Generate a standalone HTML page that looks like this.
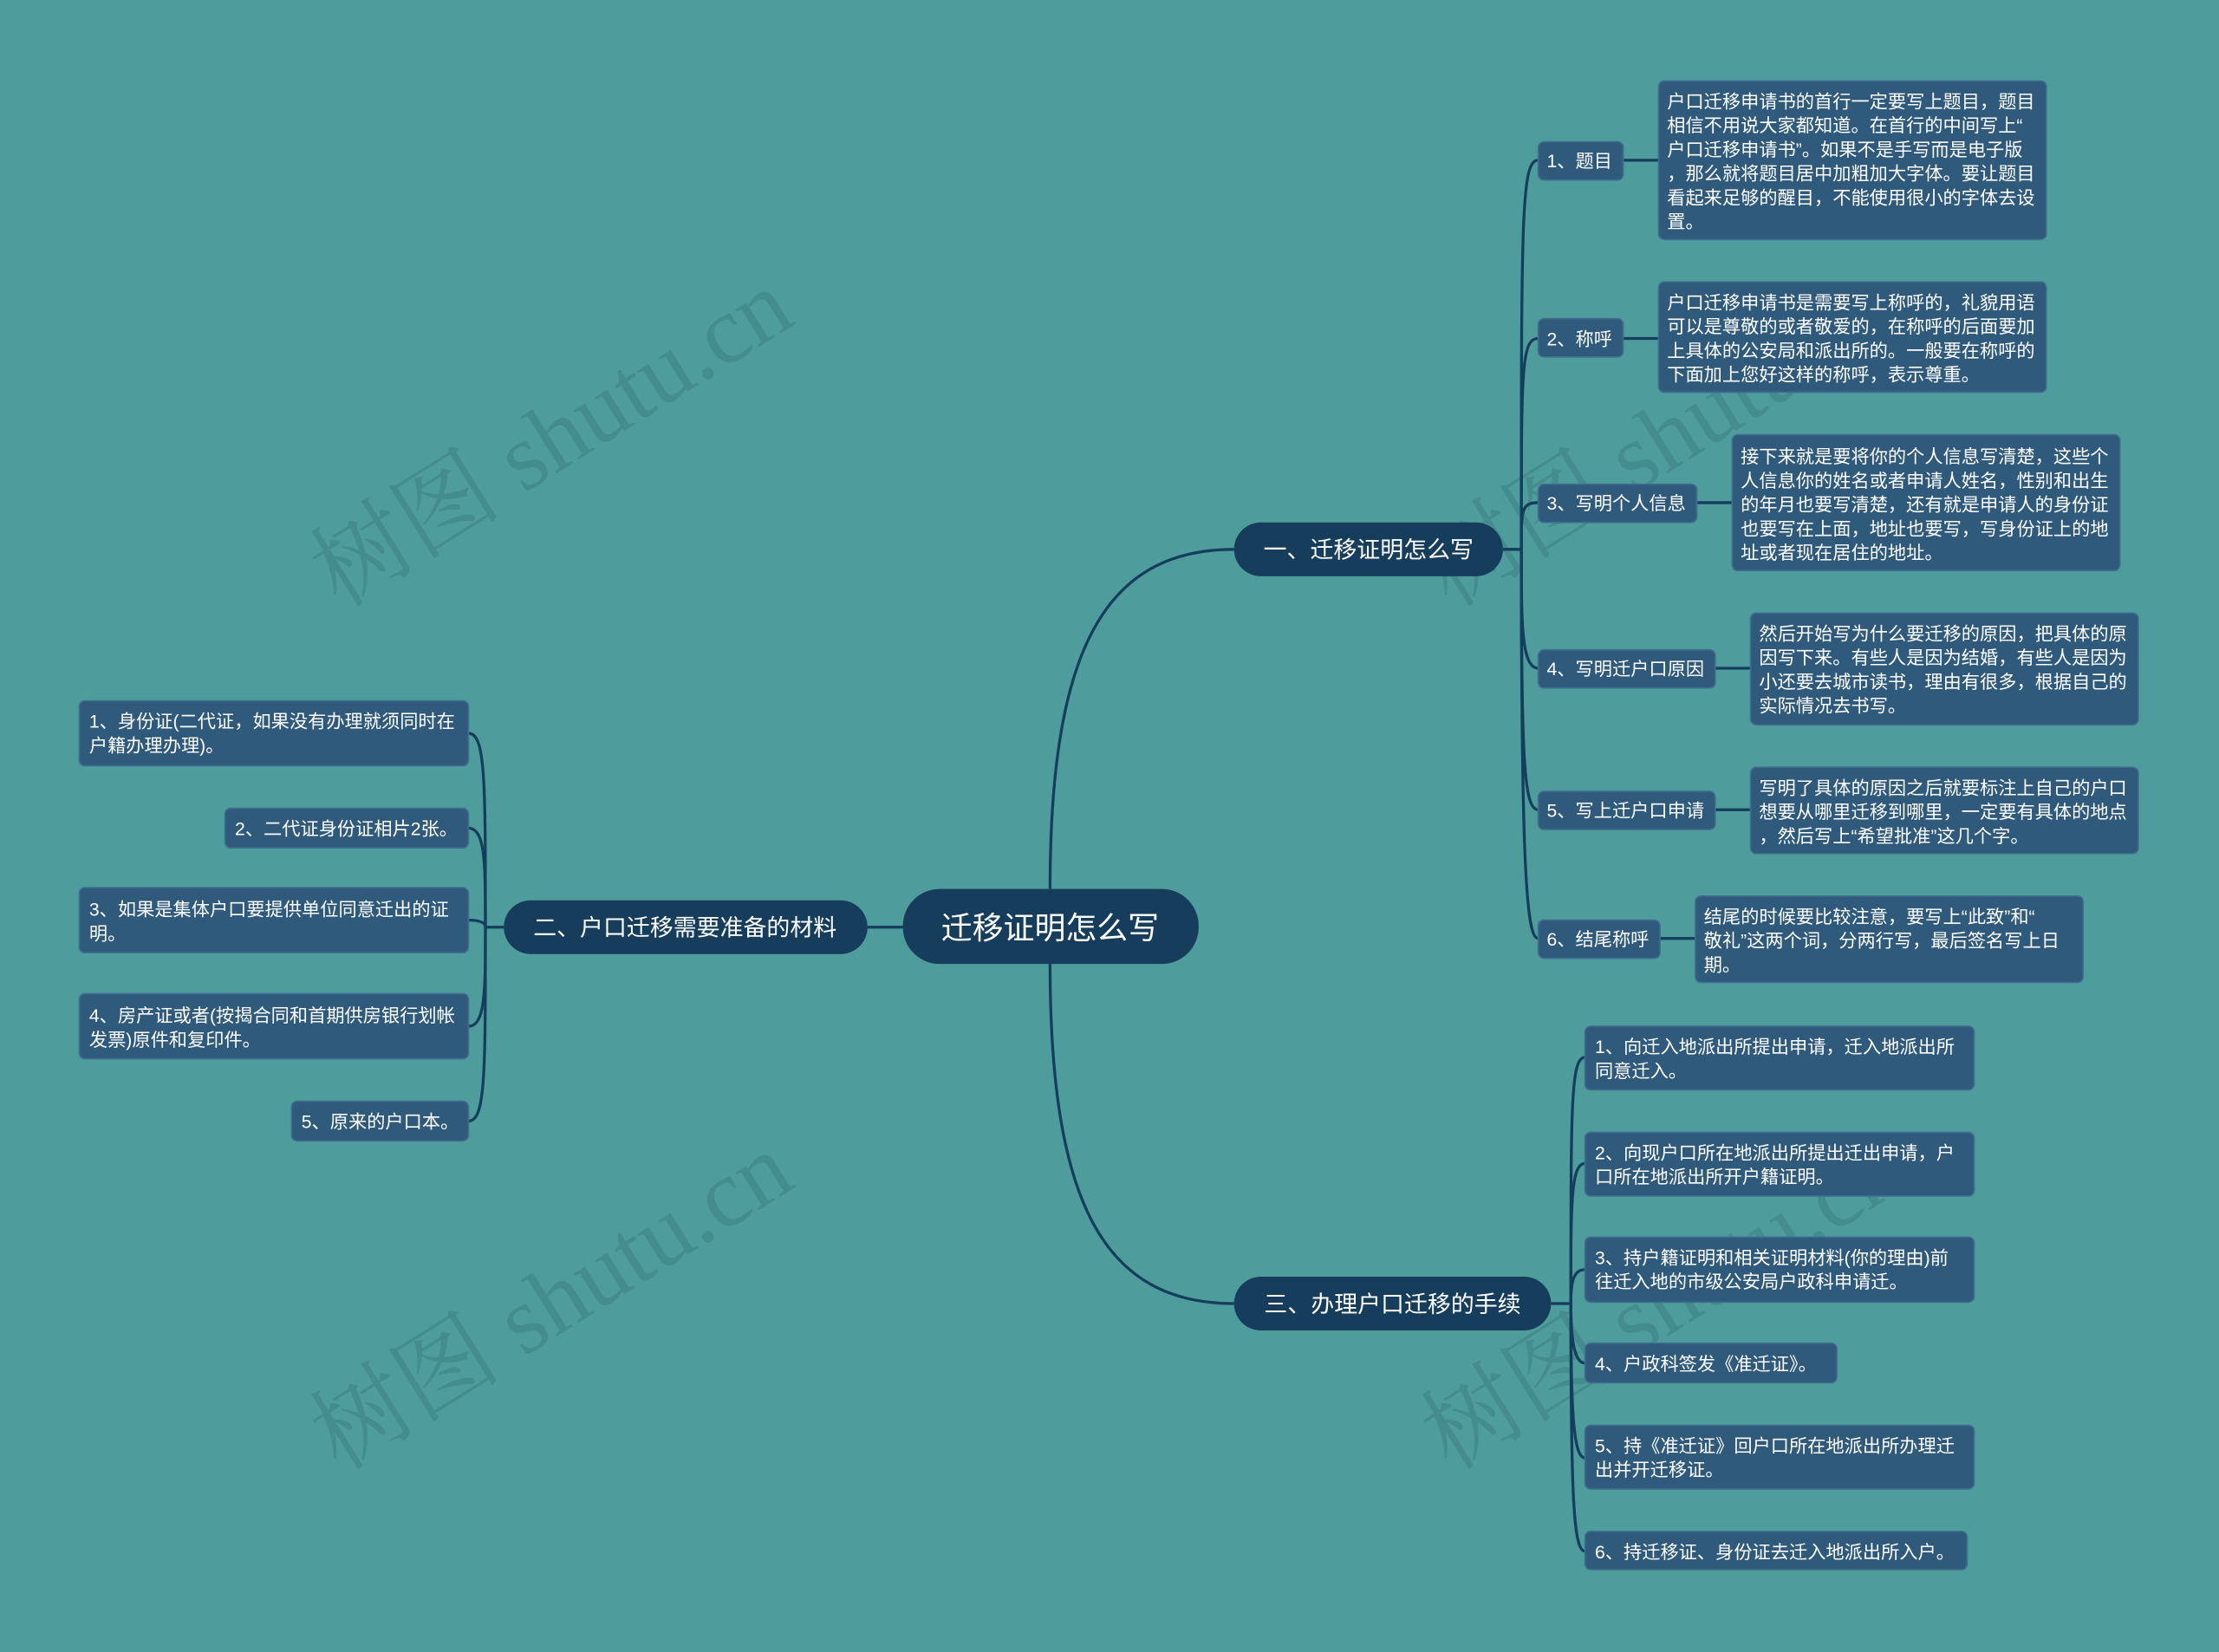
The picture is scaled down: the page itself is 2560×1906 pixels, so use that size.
<!DOCTYPE html>
<html><head><meta charset="utf-8"><style>
html,body{margin:0;padding:0;background:#4e9c9c;}
svg{display:block}
text{font-family:"Liberation Sans","Noto Sans CJK SC",sans-serif;fill:#fff;}
.l{font-size:13px}
.leaf{fill:#2f5a7b;stroke:#3f6e8e;stroke-width:1}
.ln{fill:none;stroke:#163d5c;stroke-width:2}
.wm{font-family:"Liberation Serif","Noto Serif CJK SC",serif;font-size:68px;fill:#3f7f85;opacity:0.55}
</style></head><body>
<svg width="2560" height="1906" viewBox="0 0 1568 1167" xmlns="http://www.w3.org/2000/svg">
<rect width="1568" height="1167" fill="#4e9c9c"/>
<g>
<text class="wm" transform="translate(240,430) rotate(-32)">树图 shutu.cn</text>
<text class="wm" transform="translate(240,1040) rotate(-32)">树图 shutu.cn</text>
<text class="wm" transform="translate(1025,430) rotate(-32)">树图 shutu.cn</text>
<text class="wm" transform="translate(1025,1040) rotate(-32)">树图 shutu.cn</text>
</g>
<!-- connectors -->
<path class="ln" d="M742,628 C742,460 780,388 872,388"/>
<path class="ln" d="M742,681 C742,850 780,921 872,921"/>
<path class="ln" d="M638,655 L613,655"/>
<path class="ln" d="M1062,388 L1075,388"/>
<path class="ln" d="M1075,388 C1075,150 1075,113 1087,113"/>
<path class="ln" d="M1075,388 C1075,260 1075,239 1087,239"/>
<path class="ln" d="M1075,388 C1075,360 1075,355 1087,355"/>
<path class="ln" d="M1075,388 C1075,440 1075,472 1087,472"/>
<path class="ln" d="M1075,388 C1075,540 1077,572 1087,572"/>
<path class="ln" d="M1075,388 C1075,620 1079,663 1087,663"/>
<path class="ln" d="M1147,113 L1172,113"/>
<path class="ln" d="M1147,239 L1172,239"/>
<path class="ln" d="M1199,355 L1224,355"/>
<path class="ln" d="M1212,472 L1237,472"/>
<path class="ln" d="M1212,572 L1237,572"/>
<path class="ln" d="M1173,663 L1198,663"/>
<path class="ln" d="M1096,921 L1110,921"/>
<path class="ln" d="M1110,921 C1110,780 1110,747 1120,747"/>
<path class="ln" d="M1110,921 C1110,850 1110,822 1120,822"/>
<path class="ln" d="M1110,921 C1110,905 1112,897 1120,897"/>
<path class="ln" d="M1110,921 C1110,945 1112,963 1120,963"/>
<path class="ln" d="M1110,921 C1110,1000 1112,1030 1120,1030"/>
<path class="ln" d="M1110,921 C1110,1060 1112,1096 1120,1096"/>
<path class="ln" d="M356,655 L343,655"/>
<path class="ln" d="M343,655 C343,550 343,518 331,518"/>
<path class="ln" d="M343,655 C343,610 343,585 331,585"/>
<path class="ln" d="M343,655 C343,652 340,650 331,650"/>
<path class="ln" d="M343,655 C343,700 343,725 331,725"/>
<path class="ln" d="M343,655 C343,760 343,792 331,792"/>
<!-- root & branches -->
<rect x="638" y="628" width="209" height="53" rx="26" fill="#163d5c"/>
<text x="742" y="663" text-anchor="middle" font-size="22">迁移证明怎么写</text>
<rect x="872" y="369" width="190" height="38" rx="19" fill="#163d5c"/>
<text x="967" y="394" text-anchor="middle" font-size="16.5">一、迁移证明怎么写</text>
<rect x="356" y="636" width="257" height="38" rx="19" fill="#163d5c"/>
<text x="484" y="661" text-anchor="middle" font-size="16.5">二、户口迁移需要准备的材料</text>
<rect x="872" y="902" width="224" height="38" rx="19" fill="#163d5c"/>
<text x="984" y="927" text-anchor="middle" font-size="16.5">三、办理户口迁移的手续</text>
<!-- branch 1 labels -->
<g class="l">
<rect class="leaf" x="1087" y="100" width="60" height="27" rx="4"/><text x="1093" y="118">1、题目</text>
<rect class="leaf" x="1087" y="225" width="60" height="27" rx="4"/><text x="1093" y="244">2、称呼</text>
<rect class="leaf" x="1087" y="342" width="112" height="27" rx="4"/><text x="1093" y="360">3、写明个人信息</text>
<rect class="leaf" x="1087" y="459" width="125" height="27" rx="4"/><text x="1093" y="477">4、写明迁户口原因</text>
<rect class="leaf" x="1087" y="559" width="125" height="27" rx="4"/><text x="1093" y="577">5、写上迁户口申请</text>
<rect class="leaf" x="1087" y="650" width="86" height="27" rx="4"/><text x="1093" y="668">6、结尾称呼</text>
<!-- descs -->
<rect class="leaf" x="1172" y="57" width="274" height="112" rx="4"/>
<text x="1178" y="76"><tspan x="1178">户口迁移申请书的首行一定要写上题目，题目</tspan><tspan x="1178" dy="17">相信不用说大家都知道。在首行的中间写上“</tspan><tspan x="1178" dy="17">户口迁移申请书”。如果不是手写而是电子版</tspan><tspan x="1178" dy="17">，那么就将题目居中加粗加大字体。要让题目</tspan><tspan x="1178" dy="17">看起来足够的醒目，不能使用很小的字体去设</tspan><tspan x="1178" dy="17">置。</tspan></text>
<rect class="leaf" x="1172" y="199" width="274" height="78" rx="4"/>
<text x="1178" y="218"><tspan x="1178">户口迁移申请书是需要写上称呼的，礼貌用语</tspan><tspan x="1178" dy="17">可以是尊敬的或者敬爱的，在称呼的后面要加</tspan><tspan x="1178" dy="17">上具体的公安局和派出所的。一般要在称呼的</tspan><tspan x="1178" dy="17">下面加上您好这样的称呼，表示尊重。</tspan></text>
<rect class="leaf" x="1224" y="307" width="274" height="96" rx="4"/>
<text x="1230" y="327"><tspan x="1230">接下来就是要将你的个人信息写清楚，这些个</tspan><tspan x="1230" dy="17">人信息你的姓名或者申请人姓名，性别和出生</tspan><tspan x="1230" dy="17">的年月也要写清楚，还有就是申请人的身份证</tspan><tspan x="1230" dy="17">也要写在上面，地址也要写，写身份证上的地</tspan><tspan x="1230" dy="17">址或者现在居住的地址。</tspan></text>
<rect class="leaf" x="1237" y="433" width="274" height="79" rx="4"/>
<text x="1243" y="452"><tspan x="1243">然后开始写为什么要迁移的原因，把具体的原</tspan><tspan x="1243" dy="17">因写下来。有些人是因为结婚，有些人是因为</tspan><tspan x="1243" dy="17">小还要去城市读书，理由有很多，根据自己的</tspan><tspan x="1243" dy="17">实际情况去书写。</tspan></text>
<rect class="leaf" x="1237" y="542" width="274" height="61" rx="4"/>
<text x="1243" y="561"><tspan x="1243">写明了具体的原因之后就要标注上自己的户口</tspan><tspan x="1243" dy="17">想要从哪里迁移到哪里，一定要有具体的地点</tspan><tspan x="1243" dy="17">，然后写上“希望批准”这几个字。</tspan></text>
<rect class="leaf" x="1198" y="633" width="274" height="61" rx="4"/>
<text x="1204" y="652"><tspan x="1204">结尾的时候要比较注意，要写上“此致”和“</tspan><tspan x="1204" dy="17">敬礼”这两个词，分两行写，最后签名写上日</tspan><tspan x="1204" dy="17">期。</tspan></text>
<!-- branch 3 -->
<rect class="leaf" x="1120" y="725" width="275" height="45" rx="4"/>
<text x="1127" y="744"><tspan x="1127">1、向迁入地派出所提出申请，迁入地派出所</tspan><tspan x="1127" dy="17">同意迁入。</tspan></text>
<rect class="leaf" x="1120" y="800" width="275" height="45" rx="4"/>
<text x="1127" y="819"><tspan x="1127">2、向现户口所在地派出所提出迁出申请，户</tspan><tspan x="1127" dy="17">口所在地派出所开户籍证明。</tspan></text>
<rect class="leaf" x="1120" y="874" width="275" height="46" rx="4"/>
<text x="1127" y="893"><tspan x="1127">3、持户籍证明和相关证明材料(你的理由)前</tspan><tspan x="1127" dy="17">往迁入地的市级公安局户政科申请迁。</tspan></text>
<rect class="leaf" x="1120" y="949" width="178" height="28" rx="4"/>
<text x="1127" y="968">4、户政科签发《准迁证》。</text>
<rect class="leaf" x="1120" y="1007" width="275" height="45" rx="4"/>
<text x="1127" y="1026"><tspan x="1127">5、持《准迁证》回户口所在地派出所办理迁</tspan><tspan x="1127" dy="17">出并开迁移证。</tspan></text>
<rect class="leaf" x="1120" y="1082" width="270" height="27" rx="4"/>
<text x="1127" y="1101">6、持迁移证、身份证去迁入地派出所入户。</text>
<!-- branch 2 -->
<rect class="leaf" x="56" y="495" width="275" height="46" rx="4"/>
<text x="63" y="514"><tspan x="63">1、身份证(二代证，如果没有办理就须同时在</tspan><tspan x="63" dy="17">户籍办理办理)。</tspan></text>
<rect class="leaf" x="159" y="571" width="172" height="28" rx="4"/>
<text x="166" y="590">2、二代证身份证相片2张。</text>
<rect class="leaf" x="56" y="627" width="275" height="46" rx="4"/>
<text x="63" y="647"><tspan x="63">3、如果是集体户口要提供单位同意迁出的证</tspan><tspan x="63" dy="17">明。</tspan></text>
<rect class="leaf" x="56" y="702" width="275" height="46" rx="4"/>
<text x="63" y="722"><tspan x="63">4、房产证或者(按揭合同和首期供房银行划帐</tspan><tspan x="63" dy="17">发票)原件和复印件。</tspan></text>
<rect class="leaf" x="206" y="778" width="125" height="28" rx="4"/>
<text x="213" y="797">5、原来的户口本。</text>
</g>
</svg>
</body></html>
